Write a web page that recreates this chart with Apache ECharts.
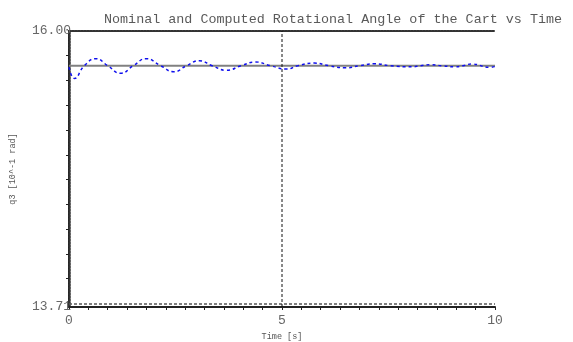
<!DOCTYPE html>
<html>
<head>
<meta charset="utf-8">
<script src="https://cdn.jsdelivr.net/npm/echarts@6/dist/echarts.min.js"></script>
<style>
  html, body { margin: 0; padding: 0; background: #fff; }
  #chart { width: 573px; height: 342px; }
</style>
</head>
<body>
<div id="chart"></div>
<script>
const time = [0, 0.13, 0.36, 0.63, 0.91, 1.21, 1.51, 1.81, 2.15, 2.46, 2.76, 3.06, 3.36, 3.70, 4.04, 4.38, 4.73, 5.11, 5.37, 5.76, 6.10, 6.49, 6.83, 7.17, 7.55, 8.05, 8.25, 8.47, 8.75, 9.06, 9.25, 9.45, 9.88, 10]
const computed = [15.700, 15.606, 15.712, 15.770, 15.712, 15.649, 15.712, 15.770, 15.712, 15.662, 15.712, 15.753, 15.712, 15.674, 15.712, 15.743, 15.712, 15.684, 15.712, 15.734, 15.712, 15.695, 15.712, 15.728, 15.712, 15.703, 15.712, 15.720, 15.712, 15.703, 15.712, 15.726, 15.699, 15.705]
const nominal = 15.712
const lowerRef = 13.735
const markTime = 5

const yMin = 13.71
const yMax = 16.0
const yLabels = [13.71, 16.0]
const yTicks = [15.795, 15.589, 15.384, 15.178, 14.973, 14.767, 14.562, 14.356, 14.151, 13.945]
const xLabels = [0, 5, 10]
const xTicks = Array.from({ length: 23 }, (_, i) => (i * 10) / 22)

const mono = 'Liberation Mono, DejaVu Sans Mono, monospace'

const chart = echarts.init(document.getElementById('chart'))

const option = {
  animation: false,
  title: {
    text: 'Nominal and Computed Rotational Angle of the Cart vs Time',
    left: 99,
    top: 8,
    textStyle: { fontFamily: mono, fontSize: 13.4, fontWeight: 'normal', color: '#5a5a5a' }
  },
  grid: {
    left: 69,
    right: 78,
    top: 31,
    bottom: 35,
    containLabel: false,
    outerBoundsMode: 'none'
  },
  xAxis: [
    {
      type: 'value',
      min: 0,
      max: 10,
      name: 'Time [s]',
      nameLocation: 'middle',
      nameGap: 14,
      nameTextStyle: { fontFamily: mono, fontSize: 8.5, color: '#555' },
      axisLine: { lineStyle: { color: '#222', width: 2 } },
      axisTick: { customValues: xTicks, length: 3, lineStyle: { color: '#222', width: 1 } },
      axisLabel: {
        customValues: xLabels,
        margin: 7,
        fontFamily: mono,
        fontSize: 13,
        color: '#666'
      },
      splitLine: { show: false }
    },
    {
      type: 'value',
      position: 'top',
      min: 0,
      max: 10,
      axisLine: { lineStyle: { color: '#333', width: 2, type: [2, 1] } },
      axisTick: { show: false },
      axisLabel: { show: false },
      splitLine: { show: false }
    }
  ],
  yAxis: [
    {
      type: 'value',
      min: yMin,
      max: yMax,
      name: 'q3 [10^-1 rad]',
      nameLocation: 'middle',
      nameRotate: 90,
      nameGap: 52,
      nameTextStyle: { fontFamily: mono, fontSize: 8.5, color: '#555' },
      axisLine: { show: true, lineStyle: { color: '#111', width: 2 } },
      axisTick: { customValues: yTicks, length: 3, lineStyle: { color: '#222', width: 1 } },
      axisLabel: {
        customValues: yLabels,
        margin: -2,
        fontFamily: mono,
        fontSize: 13,
        color: '#666',
        formatter: (v) => v.toFixed(2)
      },
      splitLine: { show: false }
    },
    {
      type: 'value',
      position: 'right',
      min: yMin,
      max: yMax,
      axisLine: { show: true, lineStyle: { color: '#333', width: 2.5, type: [2, 1] } },
      axisTick: { show: false },
      axisLabel: { show: false },
      splitLine: { show: false }
    }
  ],
  series: [
    {
      name: 'nominal',
      type: 'line',
      showSymbol: false,
      data: [[0, nominal], [10, nominal]],
      lineStyle: { color: '#808080', width: 2 },
      z: 2
    },
    {
      name: 'computed',
      type: 'line',
      showSymbol: false,
      smooth: 0.5,
      data: time.map((t, i) => [t, computed[i]]),
      lineStyle: { color: '#1010ee', width: 1.5, type: [3, 3] },
      z: 3
    },
    {
      name: 'lower',
      type: 'line',
      showSymbol: false,
      data: [[0, lowerRef], [10, lowerRef]],
      lineStyle: { color: '#555', width: 1.5, type: [3, 2] },
      z: 2
    },
    {
      name: 'mark',
      type: 'line',
      showSymbol: false,
      data: [[markTime, yMin], [markTime, yMax]],
      lineStyle: { color: '#111', width: 1, type: [3, 2] },
      z: 2
    }
  ]
}

chart.setOption(option)
</script>
</body>
</html>
